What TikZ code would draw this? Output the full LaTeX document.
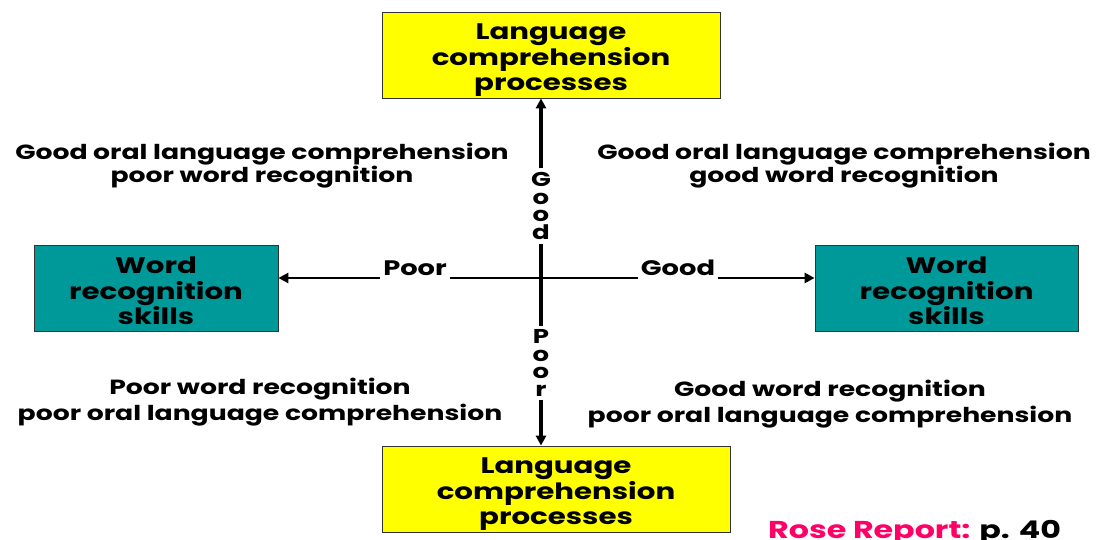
\documentclass[tikz,border=0pt]{standalone}
\usepackage{fontspec}
\setmainfont{Poppins}[UprightFont=* Bold, FakeStretch=1.3]
\usetikzlibrary{arrows.meta}
\definecolor{boxyellow}{HTML}{FFFF00}
\definecolor{boxteal}{HTML}{009999}
\definecolor{rosepink}{HTML}{FF0066}
\tikzset{
  box/.style={draw=black!80, line width=0.8pt, inner sep=0pt, minimum height=86pt},
  lcbox/.style={box, fill=boxyellow},
  wrbox/.style={box, fill=boxteal},
  boxtext/.style={align=center, inner sep=0pt, font=\fontsize{22.5}{25.5}\selectfont},
  quad/.style={align=center, font=\fontsize{20.5}{23}\selectfont, inner sep=0pt},
  quadlow/.style={quad, font=\fontsize{20.5}{26}\selectfont},
  axlabel/.style={font=\fontsize{21}{21}\selectfont, inner sep=3pt},
  vlabel/.style={font=\fontsize{20}{17.5}\selectfont, align=center, inner sep=4pt},
  vaxis/.style={line width=3.6pt},
  haxis/.style={line width=2.7pt},
  varr/.style={vaxis, -{Triangle[length=10pt,width=10pt]}},
  harr/.style={haxis, -{Triangle[length=10pt,width=10pt]}},
}
\begin{document}
\begin{tikzpicture}[x=1pt,y=-1pt]
\useasboundingbox (0,0) rectangle (1096,540);
% boxes
\node[lcbox, minimum width=338pt] (top) at (551,55) {};
\node[boxtext] (toptext) at (551,60.5) {Language\\comprehension\\processes};
\node[lcbox, minimum width=348pt] (bot) at (556,489) {};
\node[boxtext] (bottext) at (556,494.5) {Language\\comprehension\\processes};
\node[wrbox, minimum width=244pt] (left) at (156,288) {};
\node[boxtext] (lefttext) at (156,291) {Word\\recognition\\skills};
\node[wrbox, minimum width=263pt] (right) at (946.5,288) {};
\node[boxtext] (righttext) at (946.5,291) {Word\\recognition\\skills};
% center
\coordinate (c) at (541,278);
% axis labels
\node[vlabel] (vg) at (541,206) {G\\o\\o\\d};
\node[vlabel] (vp) at (541,363) {P\\o\\o\\r};
\node[axlabel] (hp) at (415,268) {Poor};
\node[axlabel] (hg) at (678,268) {Good};
% axis lines
\draw[vaxis] (c) -- (vg.south);
\draw[varr] (vg.north) -- (vg.north |- top.south);
\draw[vaxis] (c) -- (vp.north);
\draw[varr] (vp.south) -- (vp.south |- bot.north);
\draw[haxis] (c) -- (hp.east |- c);
\draw[harr] (hp.west |- c) -- (left.east |- c);
\draw[haxis] (c) -- (hg.west |- c);
\draw[harr] (hg.east |- c) -- (right.west |- c);
% quadrant texts
\node[quad] (tl) at (262,166) {Good oral language comprehension\\poor word recognition};
\node[quad] (tr) at (844,166) {Good oral language comprehension\\good word recognition};
\node[quadlow] (bl) at (260,402) {Poor word recognition\\poor oral language comprehension};
\node[quadlow] (br) at (830,404) {Good word recognition\\poor oral language comprehension};
% source
\node[anchor=base west, inner sep=0pt, font=\fontsize{24.4}{24}\selectfont] (src) at (768,538) {\textcolor{rosepink}{Rose Report:} p. 40};
\end{tikzpicture}
\end{document}
